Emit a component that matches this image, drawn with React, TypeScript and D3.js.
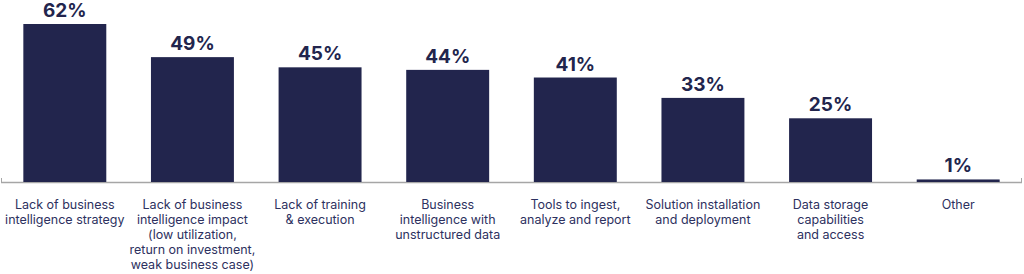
import React from "react";
import * as d3 from "d3";

const categories: string[][] = [
  ["Lack of business", "intelligence strategy"],
  ["Lack of business", "intelligence impact", "(low utilization,", "return on investment,", "weak business case)"],
  ["Lack of training", "& execution"],
  ["Business", "intelligence with", "unstructured data"],
  ["Tools to ingest,", "analyze and report"],
  ["Solution installation", "and deployment"],
  ["Data storage", "capabilities", "and access"],
  ["Other"],
];
const values: number[] = [62, 49, 45, 44, 41, 33, 25, 1];

const W = 1024;
const H = 274;
const baseY = 182;
const topY = 24;
const x0 = 1;
const x1 = 1022;
const navy = "#22254d";
const font = "Inter, 'Noto Sans', sans-serif";

export default function App() {
  const idx = values.map((_, i) => String(i));
  const x = d3.scaleBand<string>().domain(idx).range([x0, x1]).paddingInner(0.35).paddingOuter(0.175);
  const y = d3.scaleLinear().domain([0, 62]).range([baseY, topY]);
  return (
    <svg width={W} height={H} style={{ position: "absolute", left: 0, top: 0 }}>
      <line x1={x0} x2={x1} y1={baseY + 0.5} y2={baseY + 0.5} stroke="#a6a6a6" strokeWidth={1.5} />
      <line x1={x0 + 0.5} x2={x0 + 0.5} y1={baseY - 4} y2={baseY + 1} stroke="#a6a6a6" strokeWidth={1} />
      <line x1={x1 - 0.5} x2={x1 - 0.5} y1={baseY - 4} y2={baseY + 1} stroke="#a6a6a6" strokeWidth={1} />
      {values.map((v, i) => {
        const bx = x(String(i))!;
        const bw = x.bandwidth();
        const cx = bx + bw / 2;
        return (
          <g key={i}>
            <rect x={bx} y={y(v)} width={bw} height={baseY - y(v)} fill={navy} />
            <text x={cx} y={y(v) - 7} textAnchor="middle" fontFamily={font} fontWeight={700} fontSize={19} fill={navy}>
              {v}%
            </text>
            {categories[i].map((line, j) => (
              <text key={j} x={cx} y={209 + j * 15} textAnchor="middle" fontFamily={font} fontSize={12.5} fill="#2d3160">
                {line}
              </text>
            ))}
          </g>
        );
      })}
    </svg>
  );
}
